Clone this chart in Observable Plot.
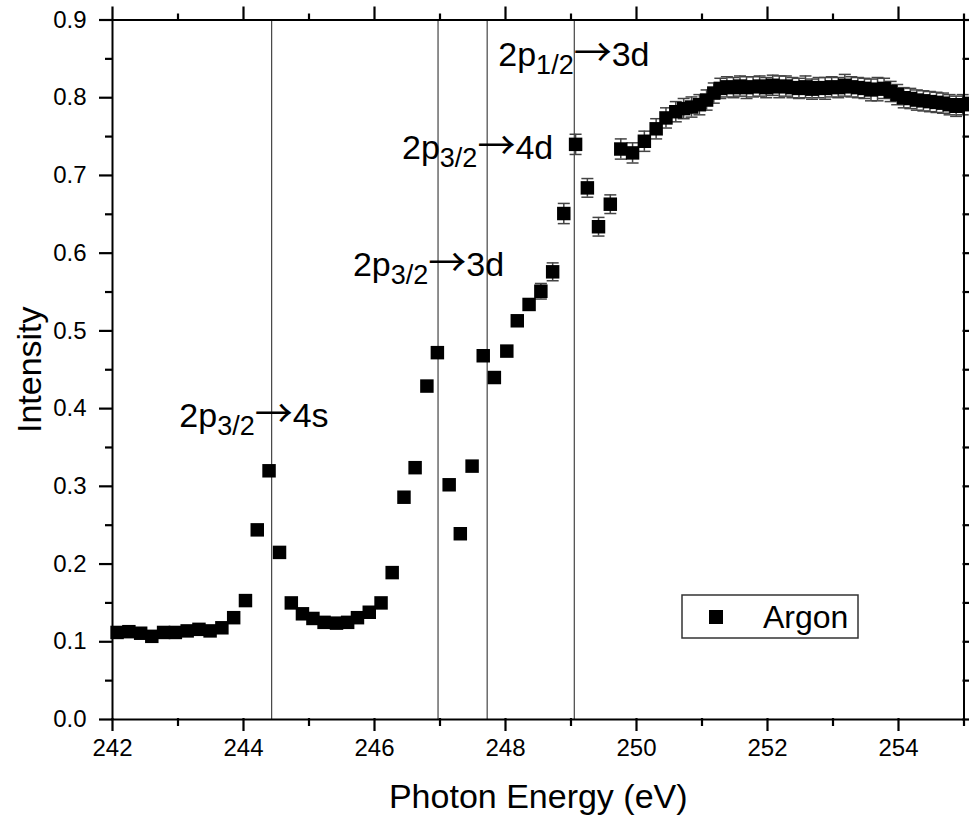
<!DOCTYPE html>
<html><head><meta charset="utf-8">
<script src="https://cdn.jsdelivr.net/npm/d3@7"></script>
<script src="https://cdn.jsdelivr.net/npm/@observablehq/plot@0.6"></script>
<style>
body{margin:0;background:#fff;}
</style>
</head><body><div id="chart"></div>
<script>
const energy = [
  242.07, 242.25, 242.43, 242.60, 242.78, 242.96, 243.14, 243.32, 243.49, 243.67,
  243.85, 244.03, 244.21, 244.39, 244.55, 244.73, 244.90, 245.06, 245.23, 245.42,
  245.59, 245.74, 245.92, 246.10, 246.27, 246.45, 246.62, 246.80, 246.96, 247.14,
  247.31, 247.49, 247.66, 247.83, 248.02, 248.18, 248.36, 248.54, 248.72, 248.89,
  249.07, 249.25, 249.42, 249.60, 249.76, 249.94, 250.12, 250.30, 250.45, 250.60,
  250.72, 250.84, 250.96, 251.07, 251.18, 251.28, 251.38, 251.48, 251.58, 251.68,
  251.78, 251.88, 251.98, 252.08, 252.18, 252.28, 252.38, 252.48, 252.58, 252.68,
  252.78, 252.88, 252.98, 253.08, 253.18, 253.28, 253.38, 253.48, 253.58, 253.68,
  253.78, 253.88, 253.98, 254.08, 254.18, 254.28, 254.38, 254.48, 254.58, 254.68,
  254.78, 254.88, 254.98
];
const intensity = [
  0.112, 0.113, 0.111, 0.107, 0.112, 0.112, 0.114, 0.116, 0.114, 0.118,
  0.131, 0.153, 0.244, 0.320, 0.215, 0.150, 0.136, 0.130, 0.125, 0.124,
  0.125, 0.131, 0.138, 0.150, 0.189, 0.286, 0.324, 0.429, 0.472, 0.302,
  0.239, 0.326, 0.468, 0.440, 0.474, 0.513, 0.534, 0.551, 0.576, 0.651,
  0.740, 0.684, 0.634, 0.663, 0.734, 0.729, 0.744, 0.760, 0.774, 0.782,
  0.786, 0.788, 0.791, 0.797, 0.806, 0.812, 0.814, 0.813, 0.815, 0.813,
  0.814, 0.815, 0.813, 0.816, 0.814, 0.815, 0.813, 0.812, 0.814, 0.811,
  0.813, 0.812, 0.814, 0.813, 0.816, 0.814, 0.813, 0.812, 0.810, 0.811,
  0.812, 0.808, 0.804, 0.800, 0.799, 0.797, 0.796, 0.795, 0.794, 0.793,
  0.791, 0.789, 0.791
];
const errorBar = [
  null, null, null, null, null, null, null, null, null, null,
  null, null, null, null, null, null, null, null, null, null,
  null, null, null, null, null, null, null, null, null, null,
  null, null, null, null, null, null, null, 0.010, 0.0115, 0.013,
  0.013, 0.012, 0.012, 0.012, 0.013, 0.013, 0.013, 0.013, 0.013, 0.013,
  0.013, 0.013, 0.013, 0.013, 0.013, 0.013, 0.013, 0.013, 0.013, 0.014,
  0.013, 0.013, 0.013, 0.013, 0.014, 0.013, 0.013, 0.013, 0.014, 0.013,
  0.013, 0.014, 0.013, 0.013, 0.014, 0.013, 0.013, 0.013, 0.014, 0.015,
  0.013, 0.013, 0.013, 0.013, 0.013, 0.013, 0.013, 0.013, 0.013, 0.013,
  0.013, 0.013, 0.013
];

const xTicks = [242, 244, 246, 248, 250, 252, 254];
const xMinorTicks = [243, 245, 247, 249, 251, 253, 255];
const yTicks = [0, 0.1, 0.2, 0.3, 0.4, 0.5, 0.6, 0.7, 0.8, 0.9];
const yMinorTicks = [0.05, 0.15, 0.25, 0.35, 0.45, 0.55, 0.65, 0.75, 0.85];

const transitionEnergy = [244.43, 246.97, 247.72, 249.05];
const labelMain = ["2p", "2p", "2p", "2p"];
const labelSub = ["3/2", "3/2", "3/2", "1/2"];
const labelArrow = ["\u2192", "\u2192", "\u2192", "\u2192"];
const labelTail = ["4s", "3d", "4d", "3d"];
const labelX = [243.02, 245.67, 246.42, 247.89];
const labelY = [0.376, 0.570, 0.721, 0.841];

const xTitle = "Photon Energy (eV)";
const yTitle = "Intensity";
const seriesName = "Argon";

const data = energy.map((x, i) => ({x, y: intensity[i], e: errorBar[i]}));
const errData = data.filter(d => d.e != null);
const labels = labelMain.map((m, i) => ({x: labelX[i], y: labelY[i], text: m + labelSub[i] + labelArrow[i] + labelTail[i], i}));

const barSym = (x, y, w, h) => ({draw(ctx) { ctx.rect(x, y, w, h); }});
const capSymbol = barSym(-6, -0.75, 12, 1.5);
const FONT = "'Liberation Sans', Arial, sans-serif";

const W = 969, H = 825, mL = 112, mR = 5.5, mT = 19.5, mB = 106;
const pxX = (255 - 242) / (W - mL - mR);
const pxY = (0.9 - 0) / (H - mT - mB);
const tr = {stroke: "black", strokeWidth: 2.2};

const plot = Plot.plot({
  width: W,
  height: H,
  marginLeft: mL,
  marginRight: mR,
  marginTop: mT,
  marginBottom: mB,
  style: {fontFamily: FONT, background: "white", overflow: "visible", color: "black"},
  x: {domain: [242, 255]},
  y: {domain: [0, 0.9]},
  marks: [
    Plot.ruleX(transitionEnergy, {stroke: "#333", strokeWidth: 1.1}),
    Plot.ruleX(errData, {x: "x", y1: d => d.y - d.e, y2: d => d.y + d.e, stroke: "#444", strokeWidth: 1.5}),
    Plot.dot(errData, {x: "x", y: d => d.y + d.e, symbol: capSymbol, fill: "#444", stroke: "none"}),
    Plot.dot(errData, {x: "x", y: d => d.y - d.e, symbol: capSymbol, fill: "#444", stroke: "none"}),
    Plot.dot(data, {x: "x", y: "y", symbol: "square", r: 7.6, fill: "black", stroke: "none"}),
    Plot.text(labels, {x: "x", y: "y", text: "text", textAnchor: "start", lineAnchor: "bottom", fontSize: 34, fill: "black"}),
    Plot.frame({stroke: "black", strokeWidth: 2}),
    // tick marks: rules starting just inside the frame and reaching outward
    Plot.ruleX(xTicks, {x: d => d, y1: 1 * pxY, y2: -12 * pxY, ...tr}),
    Plot.ruleX(xMinorTicks, {x: d => d, y1: 1 * pxY, y2: -7 * pxY, ...tr}),
    Plot.ruleX(xTicks, {x: d => d, y1: 0.9 - 1 * pxY, y2: 0.9 + 13 * pxY, ...tr}),
    Plot.ruleX(xMinorTicks, {x: d => d, y1: 0.9 - 1 * pxY, y2: 0.9 + 6 * pxY, ...tr}),
    Plot.ruleY(yTicks, {y: d => d, x1: 242 + 1 * pxX, x2: 242 - 13 * pxX, ...tr}),
    Plot.ruleY(yMinorTicks, {y: d => d, x1: 242 + 1 * pxX, x2: 242 - 7 * pxX, ...tr}),
    Plot.ruleY(yTicks, {y: d => d, x1: 255 - 1 * pxX, x2: 255 + 8 * pxX, ...tr}),
    Plot.ruleY(yMinorTicks, {y: d => d, x1: 255 - 1 * pxX, x2: 255 + 8 * pxX, ...tr}),
    // tick labels
    Plot.axisX({anchor: "bottom", ticks: xTicks, tickSize: 0, tickPadding: 19, fontSize: 24, tickFormat: d => String(d), label: null}),
    Plot.axisY({anchor: "left", ticks: yTicks, tickSize: 0, tickPadding: 26, fontSize: 24, tickFormat: d3.format(".1f"), label: null}),
    Plot.text([xTitle], {frameAnchor: "bottom", dy: 88, lineAnchor: "bottom", textAnchor: "middle", fontSize: 34, fill: "black"}),
    Plot.text([yTitle], {frameAnchor: "left", dx: -72, rotate: -90, lineAnchor: "bottom", textAnchor: "middle", fontSize: 34, fill: "black"})
  ]
});

document.getElementById("chart").appendChild(plot);

const svg = d3.select(plot);
svg.selectAll("text").each(function () {
  const t = this.textContent;
  const lab = labels.find(l => l.text === t);
  if (!lab) return;
  const el = d3.select(this);
  el.text(null);
  el.append("tspan").text(labelMain[lab.i]);
  el.append("tspan").attr("font-size", 27).attr("dy", 8).text(labelSub[lab.i]);
  el.append("tspan").attr("font-size", 38).attr("font-family", "'Noto Sans CJK SC', 'DejaVu Sans', sans-serif").attr("dy", -8).text(labelArrow[lab.i]);
  el.append("tspan").attr("font-size", 34).text(labelTail[lab.i]);
});

const lg = svg.append("g").attr("font-family", FONT).attr("text-anchor", "start");
lg.append("rect").attr("x", 682).attr("y", 595).attr("width", 176).attr("height", 43)
  .attr("fill", "white").attr("stroke", "#333").attr("stroke-width", 1.5);
lg.append("rect").attr("x", 709).attr("y", 610).attr("width", 14).attr("height", 14).attr("fill", "black");
lg.append("text").attr("x", 763).attr("y", 628).attr("font-size", 32).attr("fill", "black").text(seriesName);
</script>
</body></html>
